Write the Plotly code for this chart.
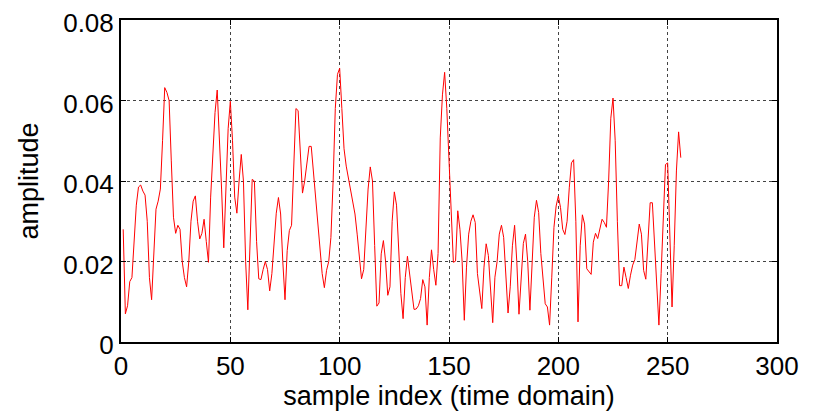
import plotly.graph_objects as go

# sample values (x = 1..256)
amplitude = [
    0.028, 0.007, 0.009, 0.015, 0.016, 0.024, 0.034, 0.0385, 0.039, 0.0375,
    0.0365, 0.030, 0.016, 0.0105, 0.021, 0.033, 0.035, 0.038, 0.050, 0.0632,
    0.062, 0.060, 0.045, 0.031, 0.027, 0.029, 0.028, 0.020, 0.016, 0.0137,
    0.020, 0.030, 0.035, 0.0363, 0.030, 0.0256, 0.027, 0.0305, 0.025, 0.0198,
    0.036, 0.048, 0.057, 0.0626, 0.052, 0.038, 0.0234, 0.040, 0.053, 0.0598,
    0.050, 0.036, 0.032, 0.040, 0.0466, 0.040, 0.020, 0.008, 0.025, 0.0404,
    0.040, 0.025, 0.0157, 0.0155, 0.018, 0.020, 0.018, 0.0127, 0.017, 0.025,
    0.032, 0.0359, 0.0318, 0.020, 0.0105, 0.0227, 0.0277, 0.029, 0.045, 0.058,
    0.0575, 0.047, 0.037, 0.040, 0.045, 0.0486, 0.0486, 0.042, 0.036, 0.030,
    0.024, 0.017, 0.0135, 0.0178, 0.020, 0.026, 0.040, 0.058, 0.0665, 0.068,
    0.058, 0.048, 0.0437, 0.0407, 0.038, 0.034, 0.0318, 0.0268, 0.022, 0.0157,
    0.018, 0.028, 0.038, 0.0435, 0.040, 0.024, 0.0089, 0.0097, 0.0219, 0.0252,
    0.020, 0.0116, 0.0137, 0.030, 0.0373, 0.034, 0.022, 0.012, 0.0058, 0.016,
    0.0213, 0.017, 0.012, 0.0081, 0.0082, 0.009, 0.0108, 0.0155, 0.0137, 0.0042,
    0.016, 0.0229, 0.018, 0.0141, 0.022, 0.0507, 0.0614, 0.067, 0.058, 0.045,
    0.030, 0.0198, 0.0201, 0.0326, 0.028, 0.020, 0.0054, 0.0186, 0.0268, 0.030,
    0.0316, 0.0297, 0.017, 0.013, 0.0083, 0.0186, 0.0244, 0.0215, 0.012, 0.0048,
    0.0161, 0.020, 0.0268, 0.029, 0.026, 0.015, 0.0072, 0.0137, 0.0239, 0.029,
    0.020, 0.0069, 0.0161, 0.0245, 0.0268, 0.020, 0.0079, 0.0178, 0.031, 0.0352,
    0.0322, 0.022, 0.0146, 0.0095, 0.0087, 0.0042, 0.0161, 0.0285, 0.0338, 0.0363,
    0.0334, 0.028, 0.0267, 0.030, 0.0383, 0.0445, 0.0453, 0.030, 0.005, 0.0239,
    0.0316, 0.0293, 0.0182, 0.0174, 0.0168, 0.0248, 0.027, 0.0257, 0.028, 0.0305,
    0.0297, 0.0285, 0.040, 0.0556, 0.0606, 0.050, 0.030, 0.014, 0.014, 0.0186,
    0.016, 0.0133, 0.0166, 0.0191, 0.0205, 0.0252, 0.0293, 0.0268, 0.0178, 0.0156,
    0.026, 0.0346, 0.0346, 0.024, 0.013, 0.0042, 0.017, 0.031, 0.0441, 0.0445,
    0.0285, 0.0087, 0.0239, 0.0425, 0.0522, 0.0458,
]
sample_index = list(range(1, len(amplitude) + 1))

x_ticks = [0, 50, 100, 150, 200, 250, 300]
y_ticks = [0, 0.02, 0.04, 0.06, 0.08]
y_tick_labels = ["0", "0.02", "0.04", "0.06", "0.08"]

x_title = "sample index (time domain)"
y_title = "amplitude"

fig = go.Figure()
fig.add_trace(go.Scatter(
    x=sample_index, y=amplitude, mode="lines",
    line=dict(color="#ff0000", width=1),
    showlegend=False, hoverinfo="skip",
))

title_font = dict(family="Liberation Sans, Arial, sans-serif", size=27, color="#000000")
tick_font = dict(family="Liberation Sans, Arial, sans-serif", size=26, color="#000000")
axis_common = dict(
    showline=True, linecolor="#000000", linewidth=2, mirror="ticks",
    ticks="inside", ticklen=5, tickwidth=1, tickcolor="#000000",
    showgrid=True, gridcolor="#444444", griddash="dot", gridwidth=1,
    zeroline=False, tickfont=tick_font, automargin=False,
    ticklabeloverflow="allow",
)

fig.update_layout(
    width=813, height=416,
    margin=dict(l=113, r=44, t=12, b=82),
    paper_bgcolor="#ffffff", plot_bgcolor="#ffffff",
    font=title_font,
    xaxis=dict(range=[0, 300], tickvals=x_ticks,
               title=dict(text=x_title, font=title_font, standoff=4), **axis_common),
    yaxis=dict(range=[0, 0.08], tickvals=y_ticks, ticktext=y_tick_labels,
               ticklabelshift=3,
               title=dict(text=y_title, font=title_font, standoff=17), **axis_common),
)

fig.write_html("out.html")
